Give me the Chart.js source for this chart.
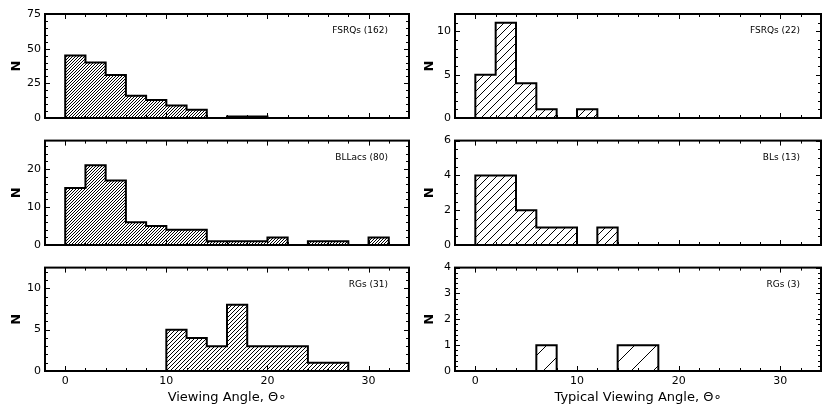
<!DOCTYPE html>
<html>
<head>
<meta charset="utf-8">
<script src="https://cdn.jsdelivr.net/npm/chart.js@4.4.0/dist/chart.umd.min.js"></script>
<style>
body { margin: 0; background: #fff; width: 830px; height: 415px; position: relative; overflow: hidden; }
canvas { position: absolute; }
</style>
</head>
<body>
<canvas id="p0" width="415" height="130" style="left:0;top:0"></canvas>
<canvas id="p1" width="415" height="127" style="left:0;top:130px"></canvas>
<canvas id="p2" width="415" height="158" style="left:0;top:257px"></canvas>
<canvas id="p3" width="415" height="130" style="left:415px;top:0"></canvas>
<canvas id="p4" width="415" height="127" style="left:415px;top:130px"></canvas>
<canvas id="p5" width="415" height="158" style="left:415px;top:257px"></canvas>
<script>
// bin edges (degrees), 2 degree bins
const binEdges = [0, 2, 4, 6, 8, 10, 12, 14, 16, 18, 20, 22, 24, 26, 28, 30, 32];

// left column: viewing angle
const fsrqAll  = [45, 40, 31, 16, 13, 9, 6, 0, 1, 1];
const bllacAll = [15, 21, 17, 6, 5, 4, 4, 1, 1, 1, 2, 0, 1, 1, 0, 2];
const rgAll    = [0, 0, 0, 0, 0, 5, 4, 3, 8, 3, 3, 3, 1, 1];
// right column: typical viewing angle
const fsrqTyp  = [5, 11, 4, 1, 0, 1];
const blTyp    = [4, 4, 2, 1, 1, 0, 1];
const rgTyp    = [0, 0, 0, 1, 0, 0, 0, 1, 1];

const panelLabels = ['FSRQs (162)', 'BLLacs (80)', 'RGs (31)', 'FSRQs (22)', 'BLs (13)', 'RGs (3)'];
const xTicks = [0, 10, 20, 30];
const yTicks = [[0, 25, 50, 75], [0, 10, 20], [0, 5, 10], [0, 5, 10], [0, 2, 4, 6], [0, 1, 2, 3, 4]];
const yMax = [75, 27.5, 12.5, 12, 6, 4];
const xTitles = ['Viewing Angle, Θ∘', 'Typical Viewing Angle, Θ∘'];

const FONT = '"DejaVu Sans", sans-serif';

// diagonal '/' hatch pattern, tile holds several lines
function hatch(gap, width) {
    let n = Math.max(1, Math.ceil(24 / gap));
    let size = gap * n;
    let c = document.createElement('canvas');
    c.width = size; c.height = size;
    let g = c.getContext('2d');
    g.fillStyle = '#fff';
    g.fillRect(0, 0, size, size);
    g.strokeStyle = '#000';
    g.lineWidth = width;
    for (let k = -n - 1; k <= n + 1; k++) {
        g.beginPath();
        g.moveTo(k * gap, size);
        g.lineTo(k * gap + size, 0);
        g.stroke();
    }
    return g.createPattern(c, 'repeat');
}

// outline points for a step histogram
function histPoints(counts) {
    let pts = [{ x: binEdges[0], y: 0 }];
    counts.forEach((c, i) => pts.push({ x: binEdges[i + 1], y: c }));
    pts.push({ x: binEdges[counts.length], y: 0 });
    return pts;
}

function withMinor(major, div, min, max) {
    let step = (major[1] - major[0]) / div;
    let out = [];
    for (let v = Math.ceil(min / step) * step; v <= max + 1e-9; v += step) {
        let isMajor = major.some(m => Math.abs(m - v) < 1e-6);
        out.push({ v: v, major: isMajor });
    }
    return out;
}

// inward ticks on all four sides, frame and panel label
const frameTicks = {
    id: 'frameTicks',
    afterDatasetsDraw(chart, args, opts) {
        let { ctx, chartArea: a, scales: { x, y } } = chart;
        ctx.save();
        ctx.strokeStyle = '#000';
        ctx.lineWidth = 1;
        let seg = (x1, y1, x2, y2) => { ctx.beginPath(); ctx.moveTo(x1, y1); ctx.lineTo(x2, y2); ctx.stroke(); };
        withMinor(xTicks, 5, x.min, x.max).forEach(t => {
            let px = Math.round(x.getPixelForValue(t.v)) + 0.5;
            let L = t.major ? 5 : 3;
            seg(px, a.bottom, px, a.bottom - L);
            seg(px, a.top, px, a.top + L);
        });
        withMinor(opts.yTicks, opts.yDiv, y.min, y.max).forEach(t => {
            let py = Math.round(y.getPixelForValue(t.v)) + 0.5;
            let L = t.major ? 5 : 3;
            seg(a.left, py, a.left + L, py);
            seg(a.right, py, a.right - L, py);
        });
        ctx.lineWidth = 2;
        ctx.strokeRect(a.left, a.top, a.right - a.left, a.bottom - a.top);
        ctx.fillStyle = '#000';
        ctx.font = '9px ' + FONT;
        ctx.textAlign = 'right';
        ctx.textBaseline = 'middle';
        ctx.fillText(opts.label, a.right - 21, a.top + 17);
        ctx.restore();
    }
};

const panels = [
    { id: 'p0', counts: fsrqAll,  gap: 3,  lw: 1, col: 0, row: 0, yDiv: 5 },
    { id: 'p1', counts: bllacAll, gap: 3,  lw: 1, col: 0, row: 1, yDiv: 5 },
    { id: 'p2', counts: rgAll,    gap: 4,  lw: 1, col: 0, row: 2, yDiv: 5 },
    { id: 'p3', counts: fsrqTyp,  gap: 8,  lw: 1, col: 1, row: 0, yDiv: 5 },
    { id: 'p4', counts: blTyp,    gap: 8,  lw: 1, col: 1, row: 1, yDiv: 4 },
    { id: 'p5', counts: rgTyp,    gap: 22, lw: 1, col: 1, row: 2, yDiv: 5 }
];
const padTop = [14, 10, 9];
const xAxisH = [12, 12, 44];

panels.forEach((p, i) => {
    let bottomRow = p.row === 2;
    let ctx = document.getElementById(p.id).getContext('2d');
    new Chart(ctx, {
        type: 'line',
        data: {
            datasets: [{
                data: histPoints(p.counts),
                stepped: 'after',
                fill: 'origin',
                backgroundColor: hatch(p.gap, p.lw),
                borderColor: '#000',
                borderWidth: 2,
                pointRadius: 0
            }]
        },
        options: {
            responsive: false,
            animation: false,
            layout: { padding: { left: 0, right: p.col === 0 ? 6 : 9, top: padTop[p.row], bottom: 0 } },
            plugins: {
                legend: { display: false },
                tooltip: { enabled: false },
                frameTicks: { label: panelLabels[i], yTicks: yTicks[i], yDiv: p.yDiv }
            },
            scales: {
                x: {
                    type: 'linear',
                    min: -2,
                    max: 34,
                    afterBuildTicks: s => { s.ticks = xTicks.map(v => ({ value: v })); },
                    afterFit: s => { s.height = xAxisH[p.row]; },
                    grid: { display: false, drawTicks: false },
                    border: { display: false },
                    ticks: { display: bottomRow, color: '#000', padding: 4, font: { family: FONT, size: 11 } },
                    title: {
                        display: bottomRow,
                        text: xTitles[p.col],
                        color: '#000',
                        padding: { top: 0, bottom: 10 },
                        font: { family: FONT, size: 13 }
                    }
                },
                y: {
                    type: 'linear',
                    min: 0,
                    max: yMax[i],
                    afterBuildTicks: s => { s.ticks = yTicks[i].map(v => ({ value: v })); },
                    afterFit: s => { s.width = p.col === 0 ? 45 : 40; },
                    grid: { display: false, drawTicks: false },
                    border: { display: false },
                    ticks: { color: '#000', padding: 4, font: { family: FONT, size: 11 } },
                    title: {
                        display: true,
                        text: 'N',
                        color: '#000',
                        padding: { top: p.col === 0 ? 9 : 7, bottom: 0 },
                        font: { family: FONT, size: 13, weight: 'bold' }
                    }
                }
            }
        },
        plugins: [frameTicks]
    });
});
</script>
</body>
</html>
